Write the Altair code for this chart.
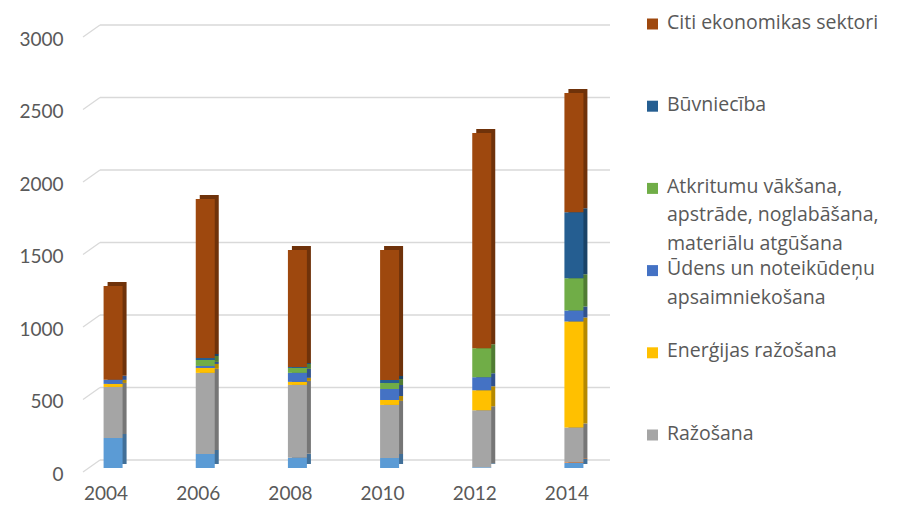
import altair as alt
import pandas as pd

years = ["2004", "2006", "2008", "2010", "2012", "2014"]
series = [
    "Lauksaimniecība",
    "Ieguves rūpniecība",
    "Ražošana",
    "Enerģijas ražošana",
    "Ūdens un noteikūdeņu apsaimniekošana",
    "Atkritumu vākšana, apstrāde, noglabāšana, materiālu atgūšana",
    "Būvniecība",
    "Citi ekonomikas sektori",
]
lauksaimnieciba = [207, 97, 70, 69, 5, 34]
ieguve = [0, 0, 0, 0, 0, 5]
razosana = [352, 559, 503, 366, 393, 241]
energija = [21, 34, 21, 34, 138, 731]
udens = [28, 14, 62, 76, 90, 76]
atkritumi = [0, 41, 34, 41, 200, 221]
buvnieciba = [0, 14, 7, 21, 0, 455]
citi = [648, 1097, 807, 897, 1484, 823]

front_colors = ["#5B9BD5", "#ED7D31", "#A5A5A5", "#FFC000", "#4472C4", "#70AD47", "#255E91", "#9E480E"]
side_colors = ["#416F98", "#A9591F", "#767676", "#B58900", "#30518C", "#507C33", "#1A4367", "#6F320A"]

legend_series = [series[7], series[6], series[5], series[4], series[3], series[2]]
legend_labels = [
    "Citi ekonomikas sektori",
    "Būvniecība",
    "Atkritumu vākšana,\napstrāde, noglabāšana,\nmateriālu atgūšana",
    "Ūdens un noteikūdeņu\napsaimniekošana",
    "Enerģijas ražošana",
    "Ražošana",
]
y_ticks = [0, 500, 1000, 1500, 2000, 2500, 3000]

values_by_series = [lauksaimnieciba, ieguve, razosana, energija, udens, atkritumi, buvnieciba, citi]
rows = []
for si, (name, vals) in enumerate(zip(series, values_by_series)):
    for yr, v in zip(years, vals):
        rows.append({"year": yr, "series": name, "value": v, "idx": si})
df = pd.DataFrame(rows)

grid_df = pd.DataFrame({"v": y_ticks})
legend_df = pd.DataFrame({"rank": list(range(len(legend_labels))), "series": legend_series, "label": legend_labels})

FONT = "Lato"
LFONT = "Open Sans"
TXT = "#595959"
GRID = "#D9D9D9"
ydom = alt.Scale(domain=[0, 3000], nice=False, zero=True)

grid = alt.Chart(grid_df).mark_rule(color=GRID, strokeWidth=1.3, yOffset=-8).encode(
    y=alt.Y("v:Q", scale=ydom, axis=None),
    x=alt.value(33), x2=alt.value(543),
)
stubs = alt.Chart(grid_df).mark_rule(color=GRID, strokeWidth=1.3, yOffset=4, y2Offset=-8).encode(
    y=alt.Y("v:Q", scale=ydom, axis=None),
    y2=alt.Y2("v"),
    x=alt.value(16), x2=alt.value(33),
)

xenc = alt.X("year:N", sort=years, scale=alt.Scale(paddingInner=0, paddingOuter=0),
             axis=alt.Axis(title=None, labelAngle=0, labelFont=FONT, labelFontSize=19, labelColor=TXT,
                           labelPadding=16, labelOffset=-7, domain=False, ticks=False, grid=False))

side = alt.Chart(df).mark_bar(width=19, xOffset=4, yOffset=-4, y2Offset=-4).encode(
    x=xenc,
    y=alt.Y("value:Q", stack="zero", scale=ydom, axis=None),
    color=alt.Color("series:N", scale=alt.Scale(domain=series, range=side_colors), legend=None),
    order=alt.Order("idx:Q", sort="ascending"),
)
front = alt.Chart(df).mark_bar(width=19).encode(
    x=xenc,
    y=alt.Y("value:Q", stack="zero", scale=ydom,
            axis=alt.Axis(title=None, values=y_ticks, format="d", labelFont=FONT, labelFontSize=19,
                          labelColor=TXT, labelPadding=4, labelOffset=6, domain=False, ticks=False,
                          grid=False)),
    color=alt.Color("series:N", scale=alt.Scale(domain=series, range=front_colors), legend=None),
    order=alt.Order("idx:Q", sort="ascending"),
)

lscale = alt.Scale(domain=[0, 5], range=[-9, 402], zero=False, nice=False)
swatch = alt.Chart(legend_df).mark_square(size=121, opacity=1).encode(
    y=alt.Y("rank:Q", scale=lscale, axis=None),
    x=alt.value(585.5),
    color=alt.Color("series:N", scale=alt.Scale(domain=series, range=front_colors), legend=None),
)
ltext = alt.Chart(legend_df).mark_text(align="left", baseline="top", dy=-10.5, lineBreak="\n", lineHeight=28.5,
                                       font=LFONT, fontSize=19.5, color=TXT).encode(
    y=alt.Y("rank:Q", scale=lscale, axis=None),
    x=alt.value(600),
    text="label:N",
)

chart = alt.layer(grid, stubs, side, front, swatch, ltext).resolve_scale(
    y="independent", color="independent"
).properties(
    width=553, height=435,
    autosize=alt.AutoSizeParams(type="none"),
    padding={"left": 59, "top": 25, "right": 269, "bottom": 36},
).configure_view(strokeWidth=0)

chart.save("out.html", embed_options={"renderer": "svg", "actions": False})
